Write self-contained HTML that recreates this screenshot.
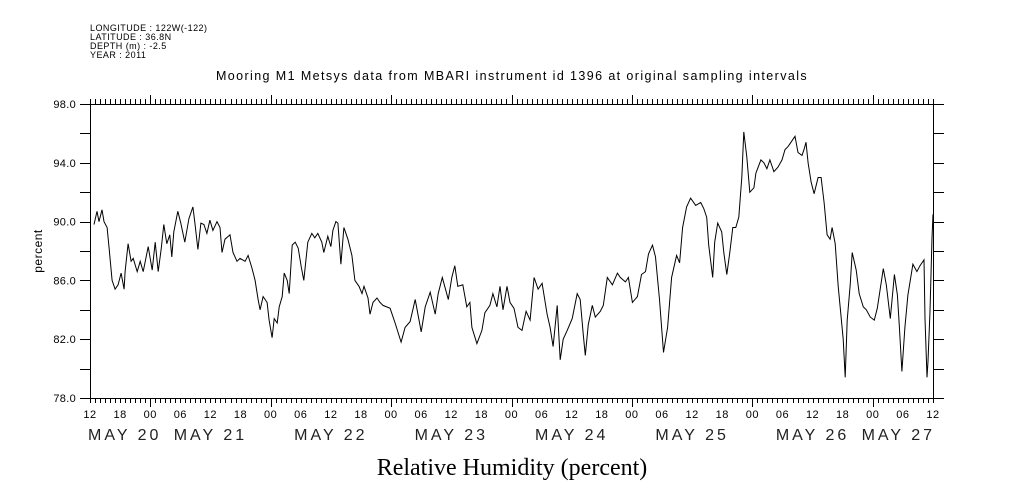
<!DOCTYPE html>
<html><head><meta charset="utf-8"><style>
body{margin:0;background:#fff;}
svg{display:block;}
text{fill:#000;}
.sm{font-family:"Liberation Sans",sans-serif;font-size:9px;letter-spacing:0.45px;}
</style></head><body>
<svg id="chart" width="1009" height="504" viewBox="0 0 1009 504" xmlns="http://www.w3.org/2000/svg">
<g class="sm">
<text x="90" y="31">LONGITUDE : 122W(-122)</text>
<text x="90" y="40">LATITUDE : 36.8N</text>
<text x="90" y="49">DEPTH (m) : -2.5</text>
<text x="90" y="58">YEAR : 2011</text>
</g>
<text x="512" y="80" text-anchor="middle" style="font-family:'Liberation Sans',sans-serif;font-size:12.5px;letter-spacing:1.4px">Mooring M1 Metsys data from MBARI instrument id 1396 at original sampling intervals</text>
<g id="axes"></g>
<g id="labels"></g>
<polyline id="series" fill="none" stroke="#000" stroke-width="1"/>
<text x="42" y="251" text-anchor="middle" transform="rotate(-90 42 251)" style="font-family:'Liberation Sans',sans-serif;font-size:12px;letter-spacing:0.5px">percent</text>
<text x="512" y="475" text-anchor="middle" style="font-family:'Liberation Serif',serif;font-size:24px">Relative Humidity (percent)</text>
</svg>
<script>
const hours=[0.8,1.4,1.8,2.4,2.8,3.4,3.8,4.4,5.0,5.6,6.2,6.8,7.0,7.6,8.2,8.6,9.4,10.0,10.6,11.6,12.4,13.0,13.6,14.2,14.7,15.3,15.9,16.3,16.7,17.5,18.1,18.9,19.7,20.5,20.9,21.5,22.1,22.7,23.3,23.9,24.5,25.3,25.9,26.3,26.9,27.9,28.5,29.3,29.9,30.9,31.5,32.3,32.9,33.5,33.9,34.5,35.3,35.7,36.3,36.7,37.3,37.7,38.3,38.7,39.3,39.7,40.3,40.9,41.5,42.1,42.6,43.4,44.2,44.8,45.4,46.2,46.6,47.4,48.0,48.4,49.0,49.4,50.0,50.6,51.4,52.2,52.8,53.6,54.2,54.6,55.4,55.8,56.4,57.2,57.8,58.4,59.8,60.8,62.0,62.8,63.8,64.8,66.0,66.8,67.8,68.8,69.4,70.2,71.4,72.1,72.7,73.3,74.3,75.1,75.7,76.1,77.1,78.1,78.7,79.7,80.3,81.1,81.7,82.3,83.1,83.7,84.5,85.3,86.1,86.9,87.7,88.5,89.3,90.1,91.1,91.7,92.3,93.1,93.7,94.3,95.1,96.1,97.1,97.7,98.3,98.7,99.3,100.1,100.7,101.7,102.3,103.1,104.1,105.1,105.7,106.7,107.3,108.1,109.1,109.9,110.7,111.3,112.1,112.7,113.5,114.3,115.1,115.9,116.9,117.5,118.1,118.9,119.7,120.7,121.7,122.3,122.9,123.3,124.1,124.5,125.1,125.9,126.3,126.9,127.5,128.1,128.7,129.3,129.9,130.3,130.9,131.5,132.3,132.7,133.7,134.3,134.9,135.5,136.3,137.1,137.9,138.5,139.1,139.5,140.5,141.1,141.9,142.3,142.7,143.1,143.7,144.3,145.1,145.7,146.3,146.9,147.5,147.9,148.5,149.1,150.1,150.5,150.9,151.5,151.9,152.7,153.3,154.1,154.7,155.5,156.3,156.9,157.3,158.1,158.7,159.5,160.3,160.9,161.3,161.8,162.4,163.0,164.0,164.8,165.4,166.2,166.4,166.8,167.0,167.4,167.8,168.0];
const humidity=[89.8,90.7,90.0,90.8,90.0,89.6,88.2,86.0,85.4,85.7,86.5,85.4,86.6,88.5,87.3,87.5,86.6,87.3,86.6,88.3,86.7,88.6,86.6,88.2,89.8,88.5,89.1,87.6,89.3,90.7,89.9,88.6,90.2,91.0,89.9,88.1,89.9,89.8,89.2,90.1,89.4,90.0,89.6,87.9,88.8,89.1,87.9,87.3,87.5,87.3,87.7,86.8,86.0,84.7,84.0,84.9,84.5,83.3,82.1,83.4,83.1,84.2,84.9,86.5,86.0,85.1,88.4,88.6,88.2,86.9,86.0,88.6,89.2,88.9,89.2,88.6,87.9,89.0,88.3,89.4,90.0,89.9,87.1,89.6,88.8,87.7,86.0,85.6,85.1,85.6,84.8,83.7,84.5,84.8,84.5,84.3,84.1,83.1,81.8,82.8,83.2,84.7,82.5,84.2,85.2,83.7,85.1,86.2,84.7,86.2,87.0,85.6,85.7,84.2,84.5,82.8,81.7,82.6,83.8,84.3,85.1,84.2,85.6,84.0,85.6,84.5,84.1,82.8,82.6,83.9,83.3,86.2,85.4,85.8,83.7,82.8,81.5,84.3,80.6,82.0,82.6,83.4,85.1,84.7,82.3,80.9,83.0,84.3,83.5,83.9,84.3,86.2,85.7,86.5,86.2,85.9,86.2,84.5,84.9,86.4,86.6,87.8,88.4,87.6,84.7,81.1,82.8,86.2,87.7,87.2,89.6,91.0,91.6,91.1,91.3,90.9,90.3,88.4,86.2,88.6,89.9,89.3,87.9,86.4,87.9,89.6,89.6,90.3,93.0,96.1,94.4,92.0,92.3,93.3,94.2,94.0,93.6,94.2,93.4,93.7,94.2,94.9,95.1,95.3,95.8,94.7,94.5,94.9,95.4,94.0,92.7,91.9,93.0,93.0,91.3,89.1,88.8,89.6,88.5,85.6,82.0,79.4,83.3,85.7,87.9,86.7,85.1,84.2,84.0,83.5,83.3,84.1,85.0,86.8,85.7,83.4,86.4,85.0,82.8,79.8,82.8,85.0,87.1,86.6,87.0,87.4,83.4,79.4,80.5,83.9,88.9,90.5];
const yTickLabels=["98.0","94.0","90.0","86.0","82.0","78.0"];
const hourLabels=["12","18","00","06","12","18","00","06","12","18","00","06","12","18","00","06","12","18","00","06","12","18","00","06","12","18","00","06","12"];
const dayLabels=["MAY 20","MAY 21","MAY 22","MAY 23","MAY 24","MAY 25","MAY 26","MAY 27"];

const X0=90,X1=933,Y0=104,Y1=398,HMAX=168,VMIN=78,VMAX=98;
function xs(h){return X0+(X1-X0)*h/HMAX;}
function ys(v){return Y1-(Y1-Y0)*(v-VMIN)/(VMAX-VMIN);}
const NS="http://www.w3.org/2000/svg";
const axes=document.getElementById('axes'),labels=document.getElementById('labels');
function line(x1,y1,x2,y2,name){const l=document.createElementNS(NS,'line');l.setAttribute('x1',x1);l.setAttribute('y1',y1);l.setAttribute('x2',x2);l.setAttribute('y2',y2);l.setAttribute('stroke','#000');l.setAttribute('stroke-width','1');


axes.appendChild(l);}
function txt(x,y,s,anchor,style,name){const t=document.createElementNS(NS,'text');t.setAttribute('x',x);t.setAttribute('y',y);t.setAttribute('text-anchor',anchor);t.setAttribute('style',"font-family:'Liberation Sans',sans-serif;"+style);t.textContent=s;


labels.appendChild(t);}
line(X0+0.5,Y0,X0+0.5,Y1,'left-axis');line(X1+0.5,Y0,X1+0.5,Y1,'right-axis');
line(X0-10,Y0+0.5,X1+11,Y0+0.5,'top-axis');line(X0-10,Y1+0.5,X1+11,Y1+0.5,'bottom-axis');
for(let v=VMIN;v<=VMAX;v+=2){const y=Math.round(ys(v))+0.5;line(X0-10,y,X0,y,'y-tick-left');line(X1,y,X1+11,y,'y-tick-right');}
yTickLabels.forEach(s=>{txt(76,ys(parseFloat(s))+4,s,'end','font-size:11px;letter-spacing:0.3px','y-tick-label');});
for(let h=0;h<=HMAX;h++){const x=Math.round(xs(h))+0.5;const major=(h%24===12);const len=major?9:5;
line(x,Y1,x,Y1+len,'x-tick-bottom');line(x,Y0,x,Y0-len,'x-tick-top');}
hourLabels.forEach((s,i)=>{txt(xs(i*6),418,s,'middle','font-size:11px;letter-spacing:0.5px','hour-label');});
dayLabels.forEach((s,i)=>{let x=xs(i*24),a='middle';if(i===0){x=88;a='start';}if(i===dayLabels.length-1){x=X1+2;a='end';}txt(x,440,s,a,'font-size:16px;letter-spacing:3px;fill:#222','day-label');});
document.getElementById('series').setAttribute('points',hours.map((h,i)=>xs(h).toFixed(1)+','+ys(humidity[i]).toFixed(1)).join(' '));
</script>
</body></html>
